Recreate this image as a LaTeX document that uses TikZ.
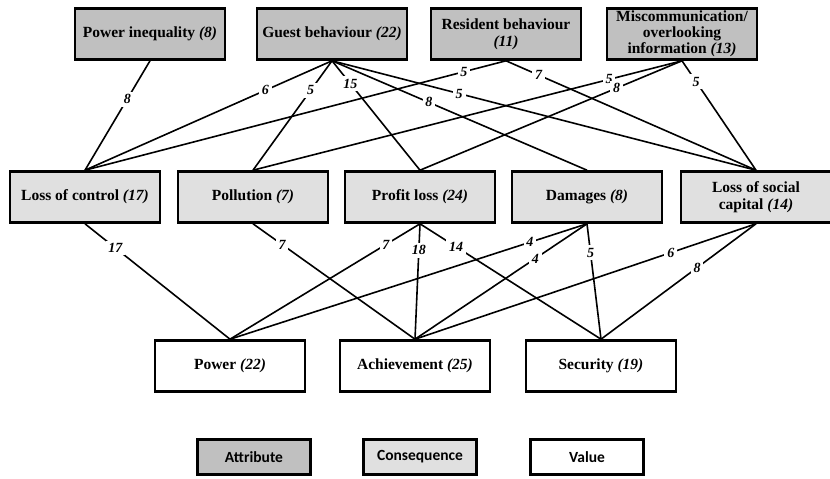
\documentclass[tikz,border=0pt]{standalone}
\usepackage{fontspec}
\setmainfont{Liberation Serif}
\newfontfamily\legendfont{Carlito}
\definecolor{attrgray}{HTML}{C0C0C0}
\definecolor{consgray}{HTML}{E0E0E0}

\begin{document}
\begin{tikzpicture}[x=1pt,y=-1pt,
    box/.style={rectangle,draw=black,line width=2.6pt,minimum width=150pt,minimum height=51pt,align=center,font=\fontsize{15.5}{17}\selectfont\bfseries},
    attrbox/.style={box,fill=attrgray},
    consbox/.style={box,fill=consgray},
    valbox/.style={box,fill=white},
    keybox/.style={rectangle,draw=black,line width=2.6pt,minimum width=113pt,minimum height=35pt,font=\fontsize{15.5}{17}\selectfont\legendfont\bfseries},
    lbl/.style={fill=white,inner sep=2.8pt,font=\fontsize{14}{14}\selectfont\bfseries\itshape},
    link/.style={draw=black,line width=1.6pt}]
        \useasboundingbox (0,0) rectangle (830,479);
        % attributes
        \node (A1) [attrbox] at (150, 34) {Power inequality \textit{(8)}};
        \node (A2) [attrbox] at (332, 34) {Guest behaviour \textit{(22)}};
        \node (A3) [attrbox] at (506, 34) {Resident behaviour\\\textit{(11)}};
        \node (A4) [attrbox,inner ysep=0pt,font=\fontsize{15.5}{16}\selectfont\bfseries] at (682, 34) {Miscommunication/\\overlooking\\information \textit{(13)}};
        % consequences
        \node (C1) [consbox] at (85, 197) {Loss of control \textit{(17)}};
        \node (C2) [consbox] at (253, 197) {Pollution \textit{(7)}};
        \node (C3) [consbox] at (420, 197) {Profit loss \textit{(24)}};
        \node (C4) [consbox] at (587, 197) {Damages \textit{(8)}};
        \node (C5) [consbox] at (756, 197) {Loss of social\\capital \textit{(14)}};
        % values
        \node (V1) [valbox] at (230, 366) {Power \textit{(22)}};
        \node (V2) [valbox] at (415, 366) {Achievement \textit{(25)}};
        \node (V3) [valbox] at (601, 366) {Security \textit{(19)}};
        % legend
        \node (L1) [keybox,fill=attrgray] at (254, 457) {Attribute};
        \node (L2) [keybox,fill=consgray] at (420, 457) {Consequence};
        \node (L3) [keybox,fill=white] at (587, 457) {Value};
        % attribute - consequence links
        \path (A1.south) edge[link] node[lbl,pos=0.35] {8} (C1.north);
        \path (A2.south) edge[link] node[lbl,pos=0.27] {6} (C1.north);
        \path (A2.south) edge[link] node[lbl,pos=0.27] {5} (C2.north);
        \path (A2.south) edge[link] node[lbl,pos=0.21] {15} (C3.north);
        \path (A2.south) edge[link] node[lbl,pos=0.38] {8} (C4.north);
        \path (A2.south) edge[link] node[lbl,pos=0.30] {5} (C5.north);
        \path (A3.south) edge[link] node[lbl,pos=0.10] {5} (C1.north);
        \path (A3.south) edge[link] node[lbl,pos=0.13] {7} (C5.north);
        \path (A4.south) edge[link] node[lbl,pos=0.17] {5} (C2.north);
        \path (A4.south) edge[link] node[lbl,pos=0.25] {8} (C3.north);
        \path (A4.south) edge[link] node[lbl,pos=0.19] {5} (C5.north);
        % consequence - value links
        \path (C1.south) edge[link] node[lbl,pos=0.21] {17} (V1.north);
        \path (C2.south) edge[link] node[lbl,pos=0.18] {7} (V2.north);
        \path (C3.south) edge[link] node[lbl,pos=0.18] {7} (V1.north);
        \path (C3.south) edge[link] node[lbl,pos=0.23] {18} (V2.north);
        \path (C3.south) edge[link] node[lbl,pos=0.20] {14} (V3.north);
        \path (C4.south) edge[link] node[lbl,pos=0.16] {4} (V1.north);
        \path (C4.south) edge[link] node[lbl,pos=0.30] {4} (V2.north);
        \path (C4.south) edge[link] node[lbl,pos=0.25] {5} (V3.north);
        \path (C5.south) edge[link] node[lbl,pos=0.25] {6} (V2.north);
        \path (C5.south) edge[link] node[lbl,pos=0.38] {8} (V3.north);
    \end{tikzpicture}
\end{document}
